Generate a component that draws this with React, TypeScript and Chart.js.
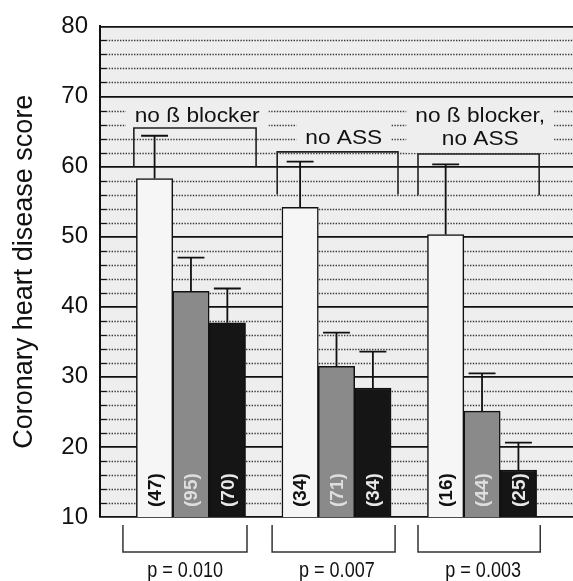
import React, { useEffect, useRef } from 'react';
import { Chart, registerables } from 'chart.js';

Chart.register(...registerables);

// ---------- data ----------
const GROUPS = ['no ß blocker', 'no ASS', 'no ß blocker, no ASS'];
const GROUP_LABEL_LINES = [['no ß blocker'], ['no ASS'], ['no ß blocker,', 'no ASS']];
const SERIES_NAMES = ['white', 'gray', 'black'];
const MEAN_WHITE = [58.3, 54.2, 50.3];
const MEAN_GRAY = [42.2, 31.5, 25.1];
const MEAN_BLACK = [37.7, 28.4, 16.7];
const ERR_TOP_WHITE = [64.4, 60.7, 60.3];
const ERR_TOP_GRAY = [47.0, 36.3, 30.5];
const ERR_TOP_BLACK = [42.6, 33.6, 20.6];
const N_WHITE = [47, 34, 16];
const N_GRAY = [95, 71, 44];
const N_BLACK = [70, 34, 25];
const P_VALUES = ['p = 0.010', 'p = 0.007', 'p = 0.003'];
const Y_TICKS_MIN = 10;
const Y_TICKS_MAX = 80;
const Y_MAJOR_STEP = 10;
const Y_MINOR_STEP = 2;
const Y_TITLE = 'Coronary heart disease score';

// ---------- layout of the annotation elements (category-index / value units) ----------
const SLOTS_PER_GROUP = 4; // 3 bars + 1 gap
const SLOT_COUNT = 1 + GROUPS.length * SLOTS_PER_GROUP;
const TOP_BRACKET_FROM = [0.43, 4.37, 8.24];
const TOP_BRACKET_TO = [3.79, 7.69, 11.57];
const TOP_BRACKET_Y = [65.5, 62.1, 61.8];
const TOP_BRACKET_LEG = [60, 56, 55.9];
const TOP_LABEL_X = [2.17, 6.2, 9.95];
const TOP_LABEL_Y = [67.25, 64.0, 67.25];
const BOTTOM_BRACKET_FROM = [0.13, 4.23, 8.24];
const BOTTOM_BRACKET_TO = [3.54, 7.61, 11.6];
const P_LABEL_X = [1.84, 6.01, 10.03];

// ---------- style ----------
const FONT = '"Liberation Sans", Arial, Helvetica, sans-serif';
const PLOT_BG = '#eeeeee';
const BAR_FILLS = ['#f6f6f6', '#8a8a8a', '#151515'];
const N_COLORS = ['#111111', '#dedede', '#e8e8e8'];
const INK = '#111111';

const MEANS = [MEAN_WHITE, MEAN_GRAY, MEAN_BLACK];
const ERR_TOPS = [ERR_TOP_WHITE, ERR_TOP_GRAY, ERR_TOP_BLACK];
const NS = [N_WHITE, N_GRAY, N_BLACK];

const slotOf = (g: number, s: number) => 1 + g * SLOTS_PER_GROUP + s;

function drawText(ctx: CanvasRenderingContext2D, text: string, x: number, y: number, font: string, scaleX: number, color: string) {
  ctx.save();
  ctx.translate(x, y);
  ctx.scale(scaleX, 1);
  ctx.font = font;
  ctx.fillStyle = color;
  ctx.textAlign = 'center';
  ctx.textBaseline = 'middle';
  ctx.fillText(text, 0, 0);
  ctx.restore();
}

const decorPlugin = {
  id: 'decor',
  beforeDraw(chart: any) {
    const { ctx, chartArea: a } = chart;
    ctx.save();
    ctx.fillStyle = PLOT_BG;
    ctx.fillRect(a.left, a.top, a.right - a.left, a.bottom - a.top);
    ctx.restore();
  },
  beforeDatasetsDraw(chart: any) {
    const { ctx, chartArea: a, scales } = chart;
    const y = scales.y;
    ctx.save();
    for (let v = Y_TICKS_MIN; v <= Y_TICKS_MAX; v += Y_MINOR_STEP) {
      if (v % Y_MAJOR_STEP === 0) continue;
      const py = Math.round(y.getPixelForValue(v)) + 0.5;
      ctx.strokeStyle = '#3a3a3a';
      ctx.lineWidth = 1.3;
      ctx.setLineDash([1.4, 1.4]);
      ctx.beginPath();
      ctx.moveTo(a.left + 6, py);
      ctx.lineTo(a.right, py);
      ctx.stroke();
      ctx.setLineDash([]);
      ctx.strokeStyle = INK;
      ctx.lineWidth = 1.3;
      ctx.beginPath();
      ctx.moveTo(a.left, py);
      ctx.lineTo(a.left + 6, py);
      ctx.stroke();
    }
    ctx.restore();
  },
  afterDatasetsDraw(chart: any) {
    const { ctx, chartArea: a, scales } = chart;
    const x = scales.x;
    const y = scales.y;
    ctx.save();
    // error bars and n labels
    for (let s = 0; s < SERIES_NAMES.length; s++) {
      const meta = chart.getDatasetMeta(s);
      for (let g = 0; g < GROUPS.length; g++) {
        const bar = meta.data[slotOf(g, s)];
        if (!bar) continue;
        const capY = y.getPixelForValue(ERR_TOPS[s][g]);
        const half = bar.width * 0.37;
        ctx.strokeStyle = INK;
        ctx.lineWidth = 1.8;
        ctx.beginPath();
        ctx.moveTo(bar.x, bar.y);
        ctx.lineTo(bar.x, capY);
        ctx.moveTo(bar.x - half, capY);
        ctx.lineTo(bar.x + half, capY);
        ctx.stroke();
        // n label
        ctx.save();
        ctx.translate(bar.x, a.bottom - 10);
        ctx.rotate(-Math.PI / 2);
        ctx.font = `bold 19px ${FONT}`;
        ctx.fillStyle = N_COLORS[s];
        ctx.textAlign = 'left';
        ctx.textBaseline = 'middle';
        ctx.fillText(`(${NS[s][g]})`, 0, 1);
        ctx.restore();
      }
    }
    // top labels: background
    const topFont = `21px ${FONT}`;
    const topScale = 1.08;
    for (let g = 0; g < GROUPS.length; g++) {
      const lines = GROUP_LABEL_LINES[g];
      const cx = x.getPixelForValue(TOP_LABEL_X[g]);
      const cy = y.getPixelForValue(TOP_LABEL_Y[g]);
      ctx.font = topFont;
      let w = 0;
      for (const l of lines) w = Math.max(w, ctx.measureText(l).width * topScale);
      const lh = 23;
      ctx.fillStyle = PLOT_BG;
      ctx.fillRect(cx - w / 2 - 9, cy - 16, w + 18, (lines.length - 1) * lh + 30);
    }
    // top brackets
    ctx.strokeStyle = '#222';
    ctx.lineWidth = 1.6;
    for (let g = 0; g < GROUPS.length; g++) {
      const x0 = x.getPixelForValue(TOP_BRACKET_FROM[g]);
      const x1 = x.getPixelForValue(TOP_BRACKET_TO[g]);
      const yt = y.getPixelForValue(TOP_BRACKET_Y[g]);
      const yl = y.getPixelForValue(TOP_BRACKET_LEG[g]);
      ctx.beginPath();
      ctx.moveTo(x0, yl);
      ctx.lineTo(x0, yt);
      ctx.lineTo(x1, yt);
      ctx.lineTo(x1, yl);
      ctx.stroke();
    }
    // top label texts
    for (let g = 0; g < GROUPS.length; g++) {
      const lines = GROUP_LABEL_LINES[g];
      const cx = x.getPixelForValue(TOP_LABEL_X[g]);
      const cy = y.getPixelForValue(TOP_LABEL_Y[g]);
      lines.forEach((l, i) => drawText(ctx, l, cx, cy + i * 23, topFont, topScale, INK));
    }
    // bottom brackets and p values
    ctx.strokeStyle = '#333';
    ctx.lineWidth = 1.5;
    for (let g = 0; g < GROUPS.length; g++) {
      const x0 = x.getPixelForValue(BOTTOM_BRACKET_FROM[g]);
      const x1 = x.getPixelForValue(BOTTOM_BRACKET_TO[g]);
      const yt = a.bottom + 8;
      const yb = a.bottom + 35;
      ctx.beginPath();
      ctx.moveTo(x0, yt);
      ctx.lineTo(x0, yb);
      ctx.lineTo(x1, yb);
      ctx.lineTo(x1, yt);
      ctx.stroke();
      drawText(ctx, P_VALUES[g], x.getPixelForValue(P_LABEL_X[g]), a.bottom + 54, `22px ${FONT}`, 0.82, INK);
    }
    ctx.restore();
  },
};

export default function App() {
  const ref = useRef<HTMLCanvasElement | null>(null);
  useEffect(() => {
    if (!ref.current) return;
    const labels: string[] = [];
    for (let i = 0; i < SLOT_COUNT; i++) labels.push('');
    GROUPS.forEach((g, gi) => SERIES_NAMES.forEach((s, si) => (labels[slotOf(gi, si)] = `${g} – ${s}`)));
    const datasets = SERIES_NAMES.map((name, si) => {
      const data: (number | null)[] = new Array(SLOT_COUNT).fill(null);
      GROUPS.forEach((_, gi) => (data[slotOf(gi, si)] = MEANS[si][gi]));
      return {
        label: name,
        data,
        backgroundColor: BAR_FILLS[si],
        borderColor: INK,
        borderWidth: 1.5,
        grouped: false,
        categoryPercentage: 1,
        barPercentage: 1,
      };
    });
    const chart = new Chart(ref.current, {
      type: 'bar',
      data: { labels, datasets },
      options: {
        animation: false,
        responsive: false,
        layout: { padding: { top: 23, right: 0, bottom: 64, left: 0 } },
        plugins: { legend: { display: false }, tooltip: { enabled: false } },
        scales: {
          x: { type: 'category', display: false, offset: true },
          y: {
            min: Y_TICKS_MIN,
            max: Y_TICKS_MAX,
            afterFit: (scale: any) => {
              scale.width = 100;
            },
            ticks: {
              stepSize: Y_MAJOR_STEP,
              padding: 12,
              color: INK,
              font: { family: FONT, size: 24 },
            },
            grid: { color: INK, lineWidth: 1.7, drawTicks: false },
            border: { display: true, color: INK, width: 2 },
            title: {
              display: true,
              text: Y_TITLE,
              color: INK,
              font: { family: FONT, size: 27 },
              padding: { top: 8, bottom: 0 },
            },
          },
        },
      },
      plugins: [decorPlugin],
    } as any);
    return () => chart.destroy();
  }, []);
  return (
    <div style={{ position: 'fixed', left: 0, top: 0, width: 573, height: 581, background: '#fff' }}>
      <canvas ref={ref} width={573} height={581} style={{ display: 'block' }} />
    </div>
  );
}
